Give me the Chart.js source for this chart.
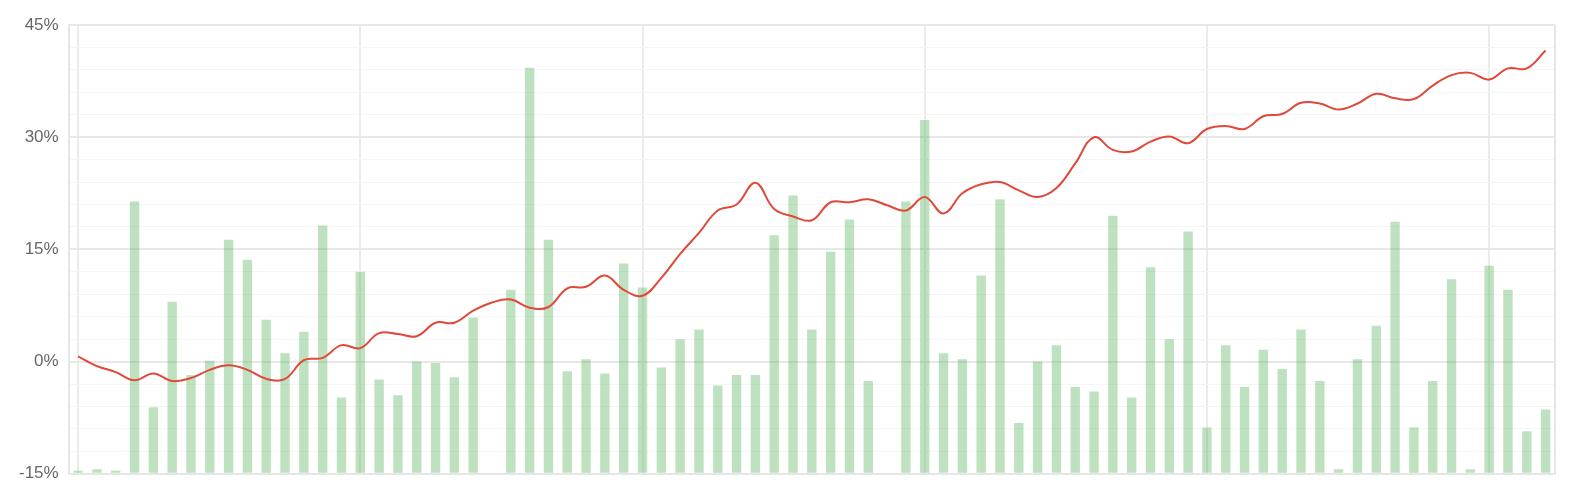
<!DOCTYPE html>
<html>
<head>
<meta charset="utf-8">
<script src="https://cdn.jsdelivr.net/npm/chart.js@4/dist/chart.umd.min.js"></script>
<style>
  html, body { margin: 0; padding: 0; background: #fff; }
  #wrap { width: 1574px; height: 494px; }
</style>
</head>
<body>
<div id="wrap"><canvas id="graphique"></canvas></div>
<script>
// Valeurs (en %)
const rendements = [
  -14.6, -14.4, -14.6, 21.4, -6.1, 8.0, -1.8, 0.1, 16.3, 13.6,
  5.6, 1.1, 4.0, 18.2, -4.8, 12.0, -2.4, -4.5, 0.0, -0.2,
  -2.1, 5.9, null, 9.6, 39.3, 16.3, -1.3, 0.3, -1.6, 13.1,
  9.9, -0.8, 3.0, 4.3, -3.2, -1.8, -1.8, 16.9, 22.2, 4.3,
  14.7, 19.0, -2.6, null, 21.4, 32.3, 1.1, 0.3, 11.5, 21.7,
  -8.2, 0.0, 2.2, -3.4, -4.0, 19.5, -4.8, 12.6, 3.0, 17.4,
  -8.8, 2.2, -3.4, 1.6, -1.0, 4.3, -2.6, -14.4, 0.3, 4.8,
  18.7, -8.8, -2.6, 11.0, -14.4, 12.8, 9.6, -9.3, -6.4
];

const cumul = [
  0.7, -0.6, -1.4, -2.5, -1.6, -2.6, -2.2, -1.1, -0.5, -1.1,
  -2.3, -2.3, 0.2, 0.5, 2.2, 1.8, 3.8, 3.7, 3.4, 5.2,
  5.2, 6.8, 7.9, 8.3, 7.2, 7.3, 9.8, 10.0, 11.5, 9.6,
  8.8, 11.2, 14.4, 17.2, 20.2, 21.0, 23.9, 20.4, 19.4, 18.9,
  21.3, 21.3, 21.7, 20.9, 20.2, 22.0, 19.8, 22.5, 23.7, 24.0,
  22.9, 22.0, 23.2, 26.5, 30.0, 28.3, 28.1, 29.4, 30.1, 29.2,
  31.1, 31.5, 31.1, 32.8, 33.1, 34.6, 34.5, 33.7, 34.5, 35.8,
  35.2, 35.1, 36.9, 38.3, 38.6, 37.7, 39.2, 39.2, 41.6
];

const categories = rendements.map((v, i) => String(i + 1));

const yMin = -15;
const yMax = 45;
const yPas = 3;
const yLabelPas = 15;
const xGrillePas = 15;

// Bordure droite du cadre
const cadreDroit = {
  id: 'cadreDroit',
  afterDraw(chart) {
    const { ctx, chartArea } = chart;
    ctx.save();
    ctx.strokeStyle = '#e6e6e6';
    ctx.lineWidth = 2;
    ctx.beginPath();
    ctx.moveTo(chartArea.right, chartArea.top);
    ctx.lineTo(chartArea.right, chartArea.bottom);
    ctx.stroke();
    ctx.restore();
  }
};

const graphique = new Chart(document.getElementById('graphique'), {
  data: {
    labels: categories,
    datasets: [
      {
        type: 'line',
        data: cumul,
        borderColor: '#e0493a',
        borderWidth: 2,
        pointRadius: 0,
        tension: 0.4,
        fill: false,
        order: 0,
      },
      {
        type: 'bar',
        data: rendements,
        base: yMin,
        backgroundColor: 'rgba(76, 175, 80, 0.36)',
        borderWidth: 0,
        categoryPercentage: 1,
        barPercentage: 0.5,
        order: 1,
      },
    ],
  },
  options: {
    responsive: true,
    maintainAspectRatio: false,
    animation: false,
    layout: { padding: { top: 25, right: 19, bottom: 20, left: 9 } },
    plugins: {
      legend: { display: false },
      tooltip: { enabled: false },
    },
    scales: {
      x: {
        offset: true,
        ticks: { display: false },
        grid: {
          offset: false,
          drawTicks: false,
          lineWidth: 2,
          color: (c) => (c.index % xGrillePas === 0 ? '#ebebeb' : 'rgba(0,0,0,0)'),
        },
        border: { color: '#e6e6e6', width: 2 },
      },
      y: {
        min: yMin,
        max: yMax,
        ticks: {
          stepSize: yPas,
          autoSkip: false,
          padding: 10,
          color: '#666',
          font: { family: 'Liberation Sans, Arial, sans-serif', size: 17 },
          callback: (v) => (v % yLabelPas === 0 ? v + '%' : ''),
        },
        grid: {
          drawTicks: false,
          lineWidth: (c) => (c.tick && c.tick.value % yLabelPas === 0 ? 2 : 1),
          color: (c) => (c.tick && c.tick.value % yLabelPas === 0 ? '#e8e8e8' : '#f5f5f5'),
        },
        border: { color: '#e6e6e6', width: 2 },
      },
    },
  },
  plugins: [cadreDroit],
});
</script>
</body>
</html>
